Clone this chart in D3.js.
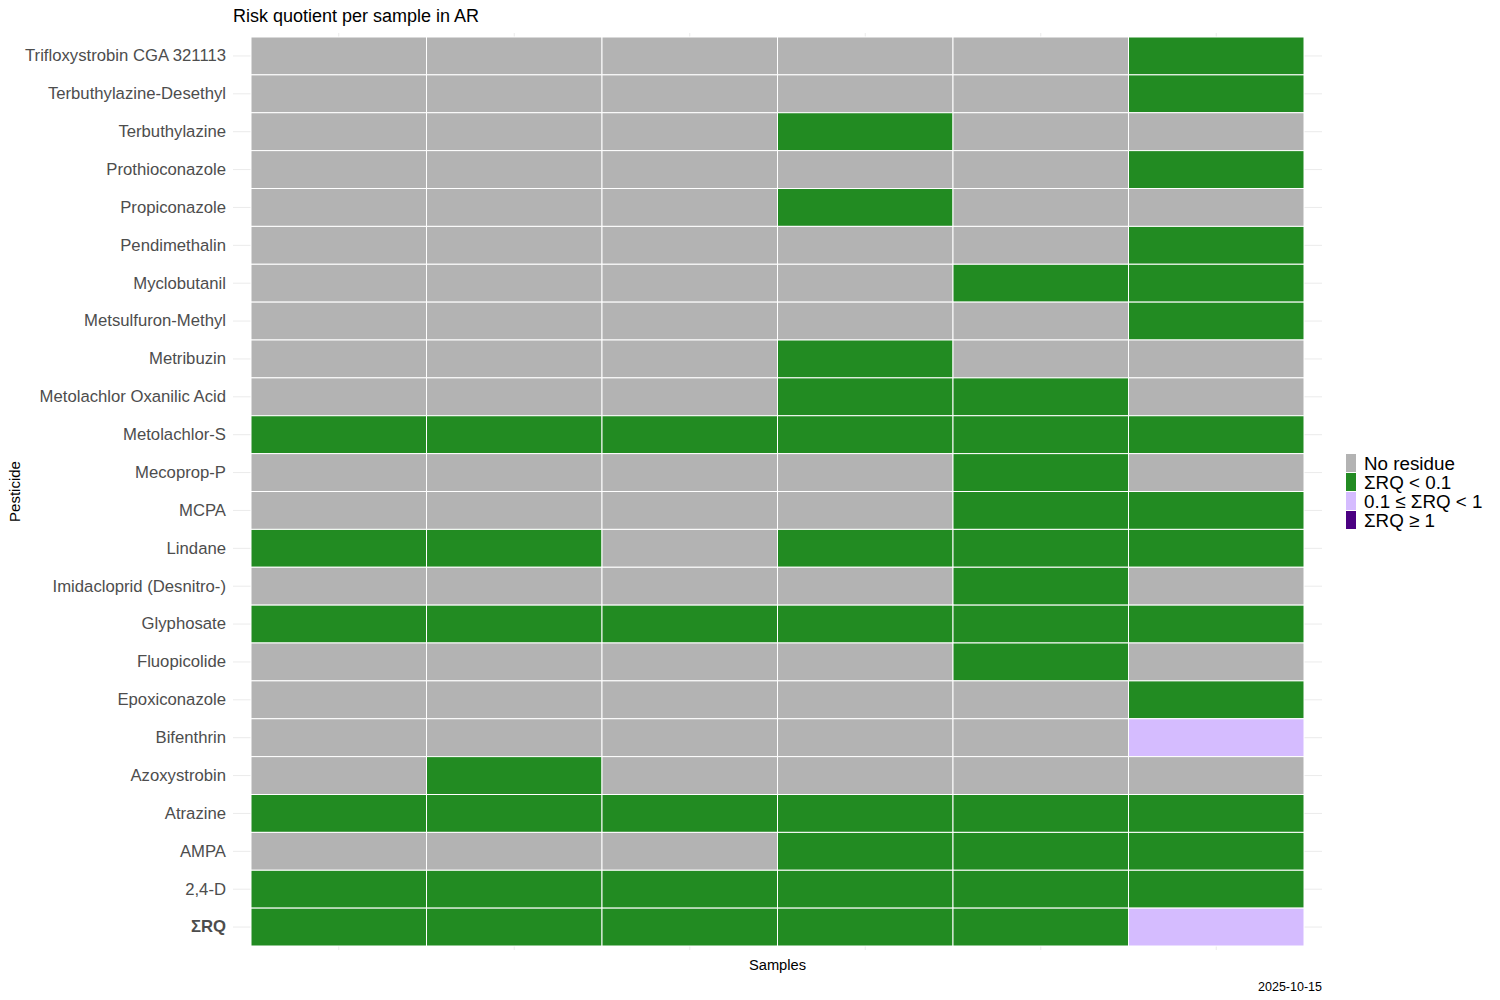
<!DOCTYPE html>
<html><head>
<meta charset="utf-8">
<title>Risk quotient per sample in AR</title>
<script src="https://d3js.org/d3.v7.min.js"></script>
<style>
  body { margin: 0; background: #fff; }
  svg text { font-family: "Liberation Sans", Arial, sans-serif; }
  .gridlines line { stroke: #ebebeb; stroke-width: 1px; }
  .gridlines .domain { stroke: none; }
  .tile { stroke: #fff; stroke-width: 1px; }
  .y-axis text { fill: #4d4d4d; font-size: 16.7px; }
  .y-axis .domain, .y-axis line { stroke: none; }
</style>
</head>
<body>
<svg id="chart" width="1500" height="1000"></svg>
<script>
// Data
const samples = ["S1", "S2", "S3", "S4", "S5", "S6"];

// top to bottom
const pesticides = [
  "Trifloxystrobin CGA 321113", "Terbuthylazine-Desethyl", "Terbuthylazine",
  "Prothioconazole", "Propiconazole", "Pendimethalin", "Myclobutanil",
  "Metsulfuron-Methyl", "Metribuzin", "Metolachlor Oxanilic Acid", "Metolachlor-S",
  "Mecoprop-P", "MCPA", "Lindane", "Imidacloprid (Desnitro-)", "Glyphosate",
  "Fluopicolide", "Epoxiconazole", "Bifenthrin", "Azoxystrobin", "Atrazine",
  "AMPA", "2,4-D", "ΣRQ"
];

// risk class per row, one letter per sample
// N = no residue, L = ΣRQ < 0.1, M = 0.1 ≤ ΣRQ < 1, H = ΣRQ ≥ 1
const riskClass = [
  "NNNNNL", "NNNNNL", "NNNLNN", "NNNNNL", "NNNLNN", "NNNNNL",
  "NNNNLL", "NNNNNL", "NNNLNN", "NNNLLN", "LLLLLL", "NNNNLN",
  "NNNNLL", "LLNLLL", "NNNNLN", "LLLLLL", "NNNNLN", "NNNNNL",
  "NNNNNM", "NLNNNN", "LLLLLL", "NNNLLL", "LLLLLL", "LLLLLM"
];

const classCodes = ["N", "L", "M", "H"];
const classLabels = ["No residue", "ΣRQ < 0.1", "0.1 ≤ ΣRQ < 1", "ΣRQ ≥ 1"];
const classColors = ["#b3b3b3", "#228b22", "#d5bcff", "#4b0082"];

const svg = d3.select("#chart");
const panel = { left: 233, right: 1322, top: 33, bottom: 950 };
const pad = { x: 18, y: 4 };

const cells = [];
pesticides.forEach((p, i) => {
  samples.forEach((s, j) => {
    cells.push({ pesticide: p, sample: s, cls: riskClass[i][j] });
  });
});

const xScale = d3.scaleBand().domain(samples)
  .range([panel.left + pad.x, panel.right - pad.x]);
const yScale = d3.scaleBand().domain(pesticides)
  .range([panel.top + pad.y, panel.bottom - pad.y]);
const colorScale = d3.scaleOrdinal().domain(classCodes).range(classColors);

// gridlines
svg.append("g").attr("class", "gridlines")
  .attr("transform", "translate(0," + panel.top + ")")
  .call(d3.axisBottom(xScale).tickSize(panel.bottom - panel.top).tickFormat(""));
svg.append("g").attr("class", "gridlines")
  .attr("transform", "translate(" + panel.left + ",0)")
  .call(d3.axisRight(yScale).tickSize(panel.right - panel.left).tickFormat(""));

// tiles
svg.append("g").selectAll("rect").data(cells)
  .join("rect")
  .attr("class", "tile")
  .attr("x", d => xScale(d.sample))
  .attr("y", d => yScale(d.pesticide))
  .attr("width", xScale.bandwidth())
  .attr("height", yScale.bandwidth())
  .attr("fill", d => colorScale(d.cls));

// y axis labels
const yAxis = svg.append("g").attr("class", "y-axis")
  .attr("transform", "translate(" + (panel.left + 4) + ",0)")
  .call(d3.axisLeft(yScale).tickSize(0).tickPadding(11));
yAxis.selectAll("text")
  .attr("dy", "0.32em")
  .style("font-weight", d => d === "ΣRQ" ? "bold" : "normal");

// titles
svg.append("text")
  .attr("x", panel.left).attr("y", 22)
  .attr("font-size", "18px").attr("fill", "#000")
  .text("Risk quotient per sample in AR");

svg.append("text")
  .attr("x", (xScale.range()[0] + xScale.range()[1]) / 2).attr("y", 970)
  .attr("text-anchor", "middle")
  .attr("font-size", "14.7px").attr("fill", "#000")
  .text("Samples");

svg.append("text")
  .attr("transform", "translate(20," + ((panel.top + panel.bottom) / 2) + ") rotate(-90)")
  .attr("text-anchor", "middle")
  .attr("font-size", "15px").attr("fill", "#000")
  .text("Pesticide");

svg.append("text")
  .attr("x", panel.right).attr("y", 991)
  .attr("text-anchor", "end")
  .attr("font-size", "12.5px").attr("fill", "#000")
  .text("2025-10-15");

// legend
const legend = svg.append("g").attr("transform", "translate(1346,454)");
const keyH = 19;
classCodes.forEach((c, i) => {
  const row = legend.append("g").attr("transform", "translate(0," + (i * keyH) + ")");
  row.append("rect")
    .attr("width", 10).attr("height", keyH - 1)
    .attr("fill", colorScale(c));
  row.append("text")
    .attr("x", 18).attr("y", keyH / 2)
    .attr("dy", "0.36em")
    .attr("font-size", "18.8px").attr("fill", "#000")
    .text(classLabels[i]);
});
</script>
</body>
</html>
